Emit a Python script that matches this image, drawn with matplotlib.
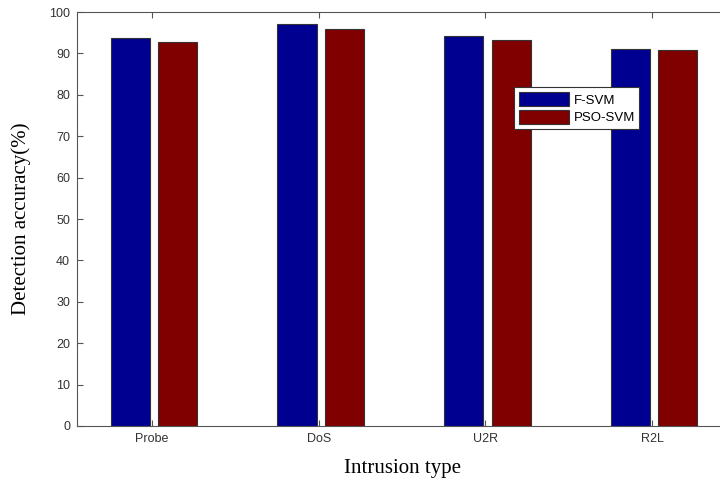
import numpy as np
import matplotlib
matplotlib.use('AGG')
import matplotlib.pyplot as plt

categories = ['Probe', 'DoS', 'U2R', 'R2L']
fsvm = [93.7, 97.1, 94.2, 91.0]
psosvm = [92.8, 96.0, 93.2, 90.9]

fig = plt.figure(figsize=(7.2, 4.88), dpi=100)
ax = fig.add_axes([77 / 720, 1 - 426 / 488, 650 / 720, 414 / 488])

x = np.arange(1, len(categories) + 1)
w = 0.235
ax.bar(x - 0.13, fsvm, w, color='#000090', edgecolor='#333333', linewidth=0.8, label='F-SVM')
ax.bar(x + 0.155, psosvm, w, color='#800000', edgecolor='#333333', linewidth=0.8, label='PSO-SVM')

ax.set_xlim(0.55, 4.45)
ax.set_ylim(0, 100)
ax.set_yticks(np.arange(0, 101, 10))
ax.set_xticks(x)
ax.set_xticklabels(categories)
ax.tick_params(direction='in', top=True, right=True, length=4, width=0.8,
               labelsize=9, colors='#555555', pad=5)
for lab in ax.get_xticklabels() + ax.get_yticklabels():
    lab.set_family('Liberation Sans')
    lab.set_color('#333333')
for s in ax.spines.values():
    s.set_color('#555555')
    s.set_linewidth(0.8)

ax.set_xlabel('Intrusion type', family='Liberation Serif', fontsize=15, labelpad=10)
ax.set_ylabel('Detection accuracy(%)', family='Liberation Serif', fontsize=15, labelpad=13)

leg = ax.legend(loc='upper left', bbox_to_anchor=(0.6725, 0.818), fancybox=False,
                framealpha=1, edgecolor='#333333', prop={'family': 'Liberation Sans', 'size': 9.5},
                handlelength=3.8, handleheight=1.3, borderpad=0.35, labelspacing=0.25,
                handletextpad=0.35, borderaxespad=0)
leg.get_frame().set_linewidth(0.8)

fig.savefig('out.png', dpi=100)
